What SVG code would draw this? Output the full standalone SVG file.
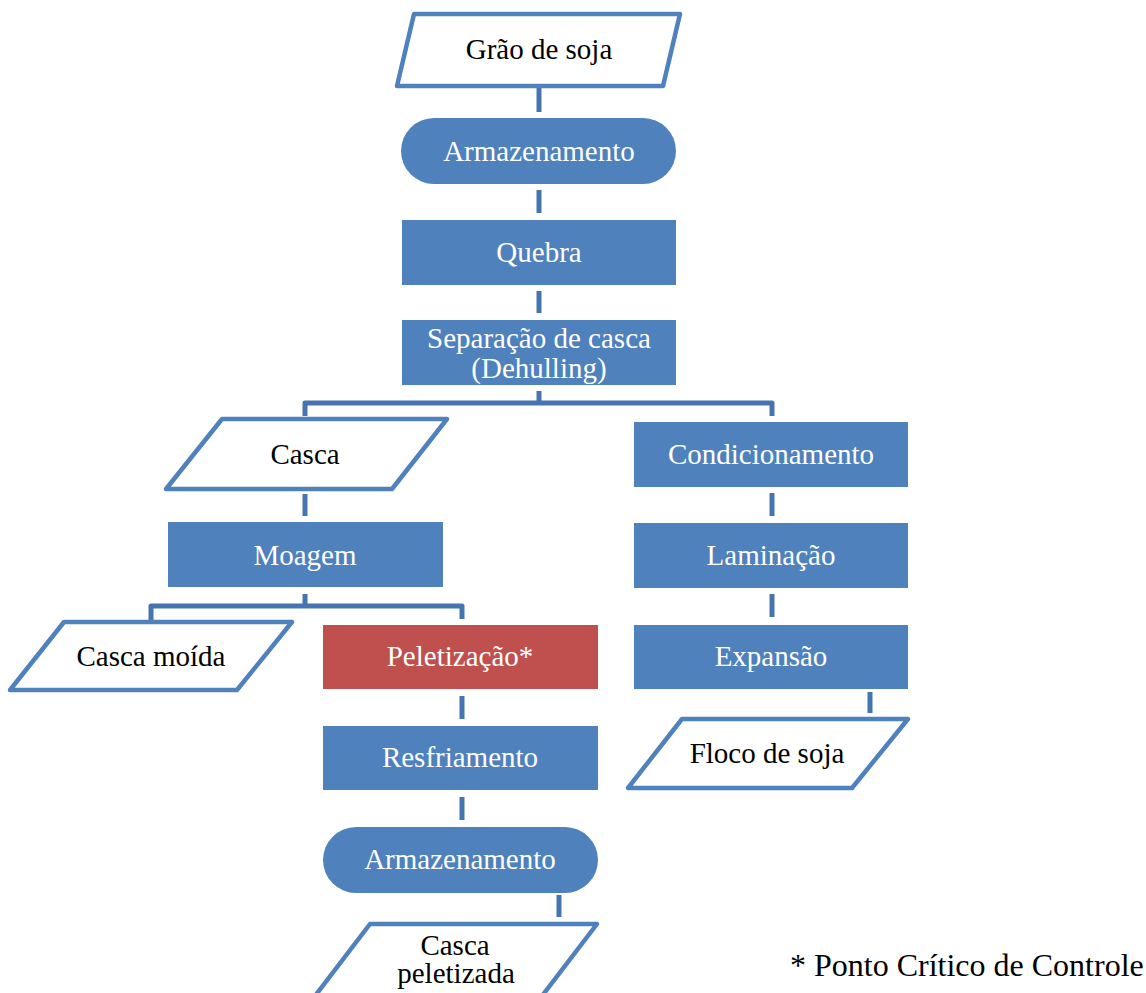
<svg xmlns="http://www.w3.org/2000/svg" width="1146" height="993" viewBox="0 0 1146 993">
<style>
.proc{fill:#4F81BD;}
.crit{fill:#C0504D;}
.io{fill:#FFFFFF;stroke:#4F81BD;stroke-width:4.5;stroke-linejoin:round;}
.wt{font-family:"Liberation Serif","Times New Roman",serif;font-size:29px;fill:#FFFFFF;text-anchor:middle;}
.bt{font-family:"Liberation Serif","Times New Roman",serif;font-size:29px;fill:#000000;text-anchor:middle;}
.conn{fill:none;stroke:#4674B0;stroke-width:5;stroke-linejoin:round;}
</style>
<rect width="1146" height="993" fill="#FFFFFF"/>
<g id="connectors">
<path class="conn" d="M539 86 V112"/>
<path class="conn" d="M539 190 V213"/>
<path class="conn" d="M539 291 V313"/>
<path class="conn" d="M539 391 V403 M305 416 V403 H772 V416"/>
<path class="conn" d="M305 494 V516"/>
<path class="conn" d="M772 493 V516"/>
<path class="conn" d="M772 594 V617"/>
<path class="conn" d="M305 594 V606 M151 620 V606 H462 V619"/>
<path class="conn" d="M462 696 V719"/>
<path class="conn" d="M462 797 V820"/>
<path class="conn" d="M870 692 V713"/>
<path class="conn" d="M559 895 V917"/>
</g>
<g id="n-grao">
<polygon class="io" points="414,14 680,14 663,86 397,86"/>
<text class="bt" x="539" y="59">Grão de soja</text>
</g>
<g id="n-armazenamento1">
<rect class="proc" x="401" y="118" width="275" height="66" rx="33"/>
<text class="wt" x="539" y="161">Armazenamento</text>
</g>
<g id="n-quebra">
<rect class="proc" x="402" y="220" width="274" height="65"/>
<text class="wt" x="539" y="262">Quebra</text>
</g>
<g id="n-separacao">
<rect class="proc" x="402" y="320" width="274" height="65"/>
<text class="wt" x="539" y="348">Separação de casca</text>
<text class="wt" x="539" y="378">(Dehulling)</text>
</g>
<g id="n-casca">
<polygon class="io" points="222,419 447,419 392,489 166,489"/>
<text class="bt" x="305" y="464">Casca</text>
</g>
<g id="n-condicionamento">
<rect class="proc" x="634" y="422" width="274" height="65"/>
<text class="wt" x="771" y="464">Condicionamento</text>
</g>
<g id="n-moagem">
<rect class="proc" x="168" y="522" width="275" height="65"/>
<text class="wt" x="305" y="565">Moagem</text>
</g>
<g id="n-laminacao">
<rect class="proc" x="634" y="523" width="274" height="65"/>
<text class="wt" x="771" y="565">Laminação</text>
</g>
<g id="n-casca-moida">
<polygon class="io" points="64,622 292,622 237,690 10,690"/>
<text class="bt" x="151" y="666">Casca moída</text>
</g>
<g id="n-peletizacao">
<rect class="crit" x="323" y="625" width="275" height="64"/>
<text class="wt" x="460" y="666">Peletização*</text>
</g>
<g id="n-expansao">
<rect class="proc" x="634" y="625" width="274" height="64"/>
<text class="wt" x="771" y="666">Expansão</text>
</g>
<g id="n-floco">
<polygon class="io" points="682,719 908,719 852,788 628,788"/>
<text class="bt" x="767" y="763">Floco de soja</text>
</g>
<g id="n-resfriamento">
<rect class="proc" x="323" y="726" width="275" height="64"/>
<text class="wt" x="460" y="767">Resfriamento</text>
</g>
<g id="n-armazenamento2">
<rect class="proc" x="323" y="827" width="275" height="66" rx="33"/>
<text class="wt" x="460" y="869">Armazenamento</text>
</g>
<g id="n-casca-peletizada">
<polygon class="io" points="370,924 597,924 542,996 315,996"/>
<text class="bt" x="455" y="955">Casca</text>
<text class="bt" x="456" y="983">peletizada</text>
</g>
<g id="legend">
<text class="bt" x="790" y="976" style="text-anchor:start;font-size:32px">* Ponto Crítico de Controle</text>
</g>
</svg>
